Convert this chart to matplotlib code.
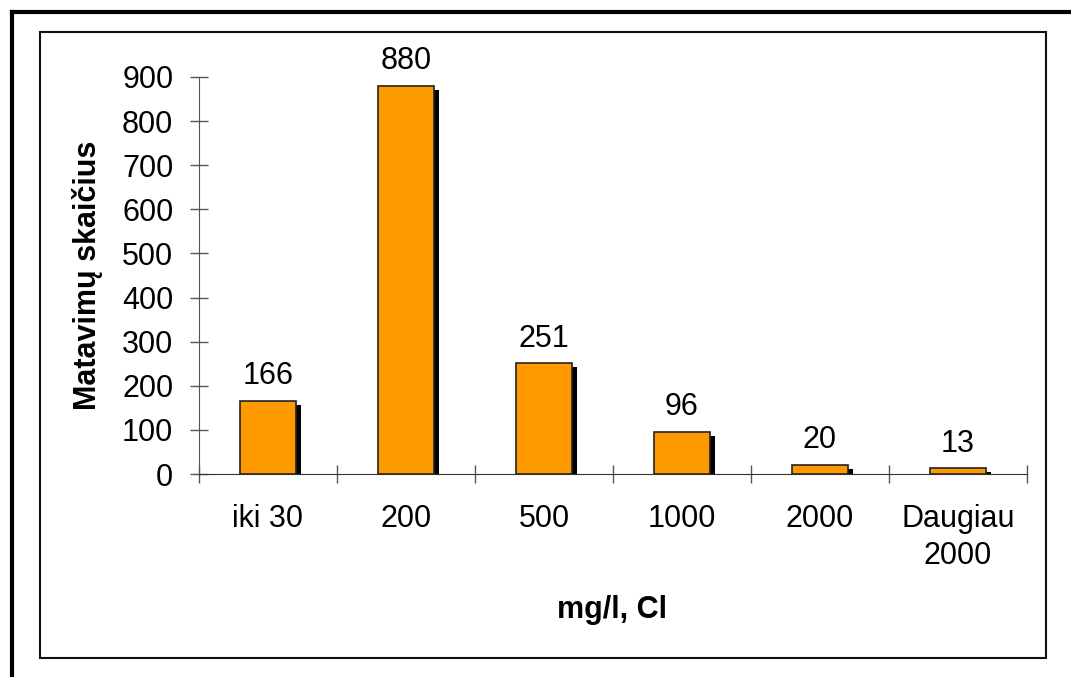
import matplotlib.pyplot as plt
import matplotlib.patheffects as pe
from matplotlib.patches import Rectangle
from matplotlib.lines import Line2D

plt.rcParams['font.family'] = ['Liberation Sans', 'DejaVu Sans']

# measurement counts per chloride concentration class
categories = ["iki 30", "200", "500", "1000", "2000", "Daugiau\n2000"]
counts = [166, 880, 251, 96, 20, 13]
y_ticks = [0, 100, 200, 300, 400, 500, 600, 700, 800, 900]

FS = 22

fig = plt.figure(figsize=(10.71, 6.77), dpi=100)
ax = fig.add_axes([199 / 1071, 1 - 474 / 677, 828 / 1071, 397 / 677])

x = list(range(len(categories)))
bars = ax.bar(x, counts, width=0.4, color="#FF9900", edgecolor="#222222", linewidth=1.2,
              zorder=3)
for b in bars:
    b.set_path_effects([pe.SimplePatchShadow(offset=(4, -3), shadow_rgbFace="black", alpha=1.0),
                        pe.Normal()])

for xi, v in zip(x, counts):
    ax.text(xi, v + 22, str(v), ha="center", va="bottom", fontsize=FS)

ax.set_xlim(-0.5, len(categories) - 0.5)
ax.set_ylim(0, 900)
ax.set_yticks(y_ticks)
ax.tick_params(axis="y", labelsize=FS, direction="inout", length=13, width=1, color="#555555",
               pad=12)

# category boundaries carry the x ticks, labels sit centered under each bar
ax.set_xticks([i - 0.5 for i in range(len(categories) + 1)])
ax.set_xticklabels([])
ax.tick_params(axis="x", direction="inout", length=13, width=1, color="#555555")
for xi, lab in zip(x, categories):
    ax.text(xi, -68, lab, ha="center", va="top", fontsize=FS, linespacing=1.3)

for s in ["top", "right"]:
    ax.spines[s].set_visible(False)
ax.spines["left"].set_color("#555555")
ax.spines["bottom"].set_color("#333333")
ax.set_facecolor("none")

ax.set_ylabel("Matavimų skaičius", fontsize=FS, fontweight="bold", labelpad=14)
fig.text(612 / 1071, 1 - 610 / 677, "mg/l, Cl", ha="center", va="center", fontsize=FS,
         fontweight="bold")

# inner frame and outer border
fig.patches.append(Rectangle((40 / 1071, 1 - 658 / 677), 1006 / 1071, 626 / 677,
                             transform=fig.transFigure, fill=False, edgecolor="#111111",
                             linewidth=1.5))
fig.lines.append(Line2D([11.5 / 1071, 11.5 / 1071], [0, 1 - 11.5 / 677],
                        transform=fig.transFigure, color="black", linewidth=3))
fig.lines.append(Line2D([11.5 / 1071, 1], [1 - 11.5 / 677, 1 - 11.5 / 677],
                        transform=fig.transFigure, color="black", linewidth=3))

fig.savefig("out.png", dpi=100)
